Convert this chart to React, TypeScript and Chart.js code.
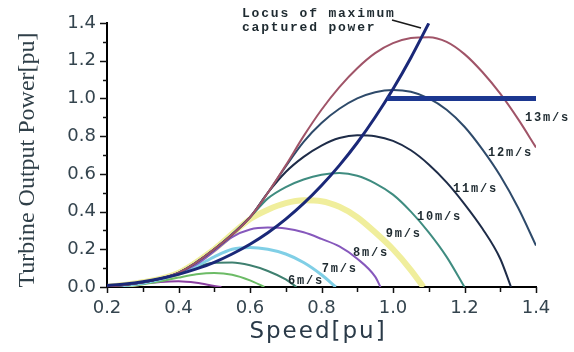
import { useEffect, useRef } from 'react';
import { Chart, registerables } from 'chart.js';

Chart.register(...registerables);

// ---- axis ticks ----
const speedTicks = [0.2, 0.4, 0.6, 0.8, 1.0, 1.2, 1.4];
const powerTicks = [0, 0.2, 0.4, 0.6, 0.8, 1.0, 1.2, 1.4];
const speedTickMarks = [0.2, 0.3, 0.4, 0.5, 0.6, 0.7, 0.8, 0.9, 1.0, 1.1, 1.2, 1.3, 1.4];
const powerTickMarks = [0, 0.1, 0.2, 0.3, 0.4, 0.5, 0.6, 0.7, 0.8, 0.9, 1.0, 1.1, 1.2, 1.3, 1.4];

// ---- wind speed curves (speed [pu] -> turbine power [pu]) ----
const w13Speed = [0.2, 0.3, 0.4, 0.5, 0.6, 0.65, 0.7, 0.75, 0.8, 0.85, 0.9, 0.95, 1.0, 1.05, 1.1, 1.15, 1.2, 1.25, 1.3, 1.35, 1.4];
const w13Power = [0.0, 0.025, 0.075, 0.2, 0.37, 0.5, 0.645, 0.8, 0.94, 1.06, 1.16, 1.24, 1.293, 1.32, 1.325, 1.3, 1.235, 1.14, 1.025, 0.89, 0.74];

const w12Speed = [0.2, 0.3, 0.4, 0.5, 0.6, 0.65, 0.7, 0.75, 0.8, 0.85, 0.9, 0.95, 1.0, 1.05, 1.1, 1.15, 1.2, 1.25, 1.3, 1.35, 1.4];
const w12Power = [0.0, 0.025, 0.075, 0.2, 0.37, 0.5, 0.64, 0.77, 0.87, 0.945, 1.0, 1.033, 1.045, 1.035, 1.0, 0.94, 0.85, 0.73, 0.59, 0.42, 0.22];

const w11Speed = [0.2, 0.3, 0.4, 0.5, 0.6, 0.65, 0.7, 0.75, 0.8, 0.85, 0.9, 0.95, 1.0, 1.05, 1.1, 1.15, 1.2, 1.25, 1.3, 1.33];
const w11Power = [0.0, 0.025, 0.075, 0.2, 0.37, 0.5, 0.61, 0.69, 0.75, 0.79, 0.805, 0.8, 0.775, 0.725, 0.65, 0.555, 0.44, 0.31, 0.15, 0.0];

const w10Speed = [0.2, 0.3, 0.4, 0.5, 0.6, 0.65, 0.7, 0.75, 0.8, 0.85, 0.9, 0.95, 1.0, 1.05, 1.1, 1.15, 1.2];
const w10Power = [0.0, 0.025, 0.075, 0.2, 0.37, 0.47, 0.53, 0.57, 0.595, 0.604, 0.59, 0.55, 0.49, 0.4, 0.29, 0.16, 0.0];

const w9Speed = [0.2, 0.3, 0.4, 0.5, 0.6, 0.65, 0.7, 0.75, 0.8, 0.85, 0.9, 0.95, 1.0, 1.05, 1.085];
const w9Power = [0.0, 0.025, 0.075, 0.2, 0.36, 0.41, 0.445, 0.46, 0.455, 0.425, 0.37, 0.29, 0.2, 0.09, 0.0];

const w8Speed = [0.2, 0.3, 0.4, 0.45, 0.5, 0.55, 0.6, 0.65, 0.7, 0.75, 0.8, 0.85, 0.9, 0.95, 0.965];
const w8Power = [0.0, 0.025, 0.075, 0.12, 0.19, 0.265, 0.305, 0.315, 0.31, 0.29, 0.255, 0.215, 0.15, 0.055, 0.0];

const w7Speed = [0.2, 0.3, 0.4, 0.45, 0.5, 0.55, 0.6, 0.65, 0.7, 0.75, 0.8, 0.84];
const w7Power = [0.0, 0.02, 0.07, 0.11, 0.16, 0.2, 0.21, 0.2, 0.175, 0.13, 0.065, 0.0];

const w6Speed = [0.2, 0.3, 0.35, 0.4, 0.45, 0.5, 0.55, 0.6, 0.65, 0.7, 0.73];
const w6Power = [0.0, 0.018, 0.04, 0.07, 0.105, 0.128, 0.13, 0.115, 0.085, 0.04, 0.0];

const w5Speed = [0.2, 0.3, 0.35, 0.4, 0.45, 0.5, 0.55, 0.6, 0.64];
const w5Power = [0.0, 0.015, 0.03, 0.05, 0.067, 0.074, 0.065, 0.035, 0.0];

const w4Speed = [0.2, 0.25, 0.3, 0.35, 0.4, 0.45, 0.5, 0.52];
const w4Power = [0.0, 0.008, 0.018, 0.027, 0.03, 0.022, 0.006, 0.0];

// ---- locus of maximum captured power and power limit ----
const locusSpeed = [0.2, 0.25, 0.3, 0.35, 0.4, 0.45, 0.5, 0.55, 0.6, 0.65, 0.7, 0.75, 0.8, 0.85, 0.9, 0.95, 1.0, 1.05, 1.1];
const locusPower = [0.008, 0.016, 0.028, 0.045, 0.067, 0.096, 0.131, 0.175, 0.227, 0.288, 0.36, 0.443, 0.538, 0.645, 0.765, 0.9, 1.05, 1.216, 1.398];
const limitSpeed = [0.983, 1.4];
const limitPower = [1.0, 1.0];

// ---- curve labels ----
const windLabels = ['13m/s', '12m/s', '11m/s', '10m/s', '9m/s', '8m/s', '7m/s', '6m/s'];
const labelSpeed = [1.369, 1.266, 1.168, 1.067, 0.98, 0.888, 0.801, 0.706];
const labelPower = [0.896, 0.71, 0.52, 0.371, 0.281, 0.18, 0.095, 0.032];

const pts = (xs: number[], ys: number[]) => xs.map((x, i) => ({ x, y: ys[i] }));

const curve = (xs: number[], ys: number[], color: string, width: number) => ({
  data: pts(xs, ys),
  borderColor: color,
  backgroundColor: color,
  borderWidth: width,
  pointRadius: 0,
  fill: false,
  cubicInterpolationMode: 'monotone' as const,
});

const overlay = {
  id: 'overlay',
  afterDraw(chart: any) {
    const ctx: CanvasRenderingContext2D = chart.ctx;
    const xs = chart.scales.x;
    const ys = chart.scales.y;
    const area = chart.chartArea;
    ctx.save();
    // tick marks
    ctx.strokeStyle = '#111';
    ctx.lineWidth = 1.5;
    powerTickMarks.forEach((v, i) => {
      const y = Math.round(ys.getPixelForValue(v)) + 0.5;
      const len = i % 2 === 0 ? 7 : 4;
      ctx.beginPath();
      ctx.moveTo(area.left - len, y);
      ctx.lineTo(area.left, y);
      ctx.stroke();
    });
    speedTickMarks.forEach((v, i) => {
      const x = Math.round(xs.getPixelForValue(v)) + 0.5;
      const len = i % 2 === 0 ? 6 : 5;
      ctx.beginPath();
      ctx.moveTo(x, area.bottom);
      ctx.lineTo(x, area.bottom + len);
      ctx.stroke();
    });

    const c2: any = ctx;
    // y title
    ctx.fillStyle = '#2f3f48';
    ctx.font = '24px "Liberation Serif"';
    ctx.textAlign = 'center';
    ctx.textBaseline = 'alphabetic';
    ctx.save();
    ctx.translate(34, 160);
    ctx.rotate(-Math.PI / 2);
    ctx.fillText('Turbine Output Power[pu]', 0, 0);
    ctx.restore();

    // x title
    ctx.font = '23px "DejaVu Sans"';
    c2.letterSpacing = '2px';
    ctx.fillStyle = '#2a3a48';
    ctx.fillText('Speed[pu]', 318, 338);

    // curve labels
    ctx.font = 'bold 12px "Liberation Mono"';
    c2.letterSpacing = '1.8px';
    ctx.fillStyle = '#1e2a30';
    ctx.textAlign = 'left';
    ctx.textBaseline = 'middle';
    windLabels.forEach((t, i) => {
      ctx.fillText(t, xs.getPixelForValue(labelSpeed[i]), ys.getPixelForValue(labelPower[i]));
    });

    // locus annotation
    ctx.font = 'bold 13px "Liberation Mono"';
    c2.letterSpacing = '1.8px';
    ctx.textBaseline = 'alphabetic';
    ctx.fillText('Locus of maximum', 242, 17);
    ctx.fillText('captured power', 242, 31);
    c2.letterSpacing = '0px';
    ctx.strokeStyle = '#1a1a1a';
    ctx.lineWidth = 1.5;
    ctx.beginPath();
    ctx.moveTo(392, 20);
    ctx.lineTo(421, 28);
    ctx.stroke();
    ctx.restore();
  },
};

export default function App() {
  const ref = useRef<HTMLCanvasElement>(null);
  useEffect(() => {
    const canvas = ref.current!;
    const chart = new Chart(canvas, {
      type: 'line',
      data: {
        datasets: [
          curve(limitSpeed, limitPower, '#1c3790', 5),
          curve(locusSpeed, locusPower, '#1a2878', 3),
          curve(w13Speed, w13Power, '#a05468', 2),
          curve(w12Speed, w12Power, '#2e4a6a', 2),
          curve(w11Speed, w11Power, '#1e2c48', 2),
          curve(w10Speed, w10Power, '#3f8c80', 2),
          curve(w8Speed, w8Power, '#8658bc', 2),
          curve(w7Speed, w7Power, '#80cfe6', 3),
          curve(w6Speed, w6Power, '#3f8070', 2),
          curve(w5Speed, w5Power, '#6cbb66', 2),
          curve(w4Speed, w4Power, '#8a40a0', 2),
          curve(w9Speed, w9Power, '#f0ee9c', 6),
        ] as any,
      },
      options: {
        responsive: false,
        animation: false,
        devicePixelRatio: 1,
        layout: { padding: { top: 23, right: 38, left: 0, bottom: 0 } },
        plugins: { legend: { display: false }, tooltip: { enabled: false } },
        scales: {
          x: {
            type: 'linear',
            min: 0.2,
            max: 1.4,
            afterBuildTicks: (s: any) => {
              s.ticks = speedTicks.map((v) => ({ value: v }));
            },
            afterFit: (s: any) => {
              s.height = 65;
            },
            grid: { display: false, drawTicks: false },
            border: { display: true, color: '#000', width: 2 },
            ticks: {
              autoSkip: false,
              maxRotation: 0,
              padding: 11,
              color: '#34444e',
              font: { family: 'DejaVu Sans', size: 18 },
              callback: (v: any) => Number(v).toFixed(1),
            },
          },
          y: {
            type: 'linear',
            min: 0,
            max: 1.4,
            afterBuildTicks: (s: any) => {
              s.ticks = powerTicks.map((v) => ({ value: v }));
            },
            afterFit: (s: any) => {
              s.width = 107;
            },
            grid: { display: false, drawTicks: false },
            border: { display: true, color: '#000', width: 2 },
            ticks: {
              autoSkip: false,
              padding: 11,
              color: '#34444e',
              font: { family: 'DejaVu Sans', size: 18 },
              callback: (v: any) => Number(v).toFixed(1),
            },
          },
        },
      },
      plugins: [overlay],
    });
    return () => chart.destroy();
  }, []);
  return (
    <div style={{ position: 'fixed', left: 0, top: 0, width: 574, height: 352, background: '#fff' }}>
      <canvas ref={ref} width={574} height={352} style={{ width: 574, height: 352, display: 'block' }} />
    </div>
  );
}
